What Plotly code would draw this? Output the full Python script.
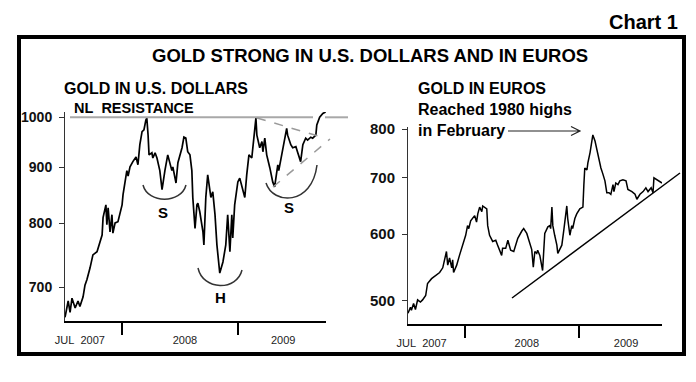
import math
import plotly.graph_objects as go

W, H = 696, 382

# ---------------- data ----------------
usd_dates = [
    "2007-07-04", "2007-07-14", "2007-07-20", "2007-07-26", "2007-08-05", "2007-08-14", "2007-08-20",
    "2007-08-30", "2007-09-05", "2007-09-11", "2007-09-21", "2007-09-30", "2007-10-13", "2007-10-22",
    "2007-10-29", "2007-11-01", "2007-11-10", "2007-11-13", "2007-11-17", "2007-11-23", "2007-11-29",
    "2007-12-02", "2007-12-09", "2007-12-18", "2007-12-24", "2007-12-31", "2008-01-03", "2008-01-09",
    "2008-01-15", "2008-01-19", "2008-01-25", "2008-02-03", "2008-02-13", "2008-02-19", "2008-02-25",
    "2008-03-03", "2008-03-09", "2008-03-15", "2008-03-18", "2008-03-22", "2008-03-25", "2008-04-03",
    "2008-04-06", "2008-04-13", "2008-04-19", "2008-04-28", "2008-05-05", "2008-05-14", "2008-05-23",
    "2008-06-05", "2008-06-08", "2008-06-18", "2008-06-24", "2008-07-07", "2008-07-13", "2008-07-19",
    "2008-07-25", "2008-08-01", "2008-08-07", "2008-08-10", "2008-08-17", "2008-08-23", "2008-08-26",
    "2008-09-01", "2008-09-11", "2008-09-14", "2008-09-20", "2008-09-26", "2008-10-06", "2008-10-12",
    "2008-10-19", "2008-10-25", "2008-11-03", "2008-11-13", "2008-11-22", "2008-11-28", "2008-12-05",
    "2008-12-11", "2008-12-14", "2008-12-20", "2008-12-30", "2009-01-05", "2009-01-15", "2009-01-21",
    "2009-01-27", "2009-02-03", "2009-02-12", "2009-02-18", "2009-02-25", "2009-02-28", "2009-03-09",
    "2009-03-16", "2009-03-19", "2009-03-25", "2009-03-31", "2009-04-10", "2009-04-19", "2009-04-25",
    "2009-05-02", "2009-05-05", "2009-05-08", "2009-05-17", "2009-05-24", "2009-06-02", "2009-06-05",
    "2009-06-15", "2009-06-21", "2009-07-01", "2009-07-07", "2009-07-16", "2009-07-23", "2009-08-01",
    "2009-08-07", "2009-08-17", "2009-08-23", "2009-09-02", "2009-09-05", "2009-09-14", "2009-09-24",
    "2009-10-03",
]
usd_values = [
    657, 680, 664, 684, 670, 680, 672,
    686, 703, 711, 729, 749, 754, 770,
    781, 810, 832, 798, 827, 786, 815,
    784, 801, 803, 815, 832, 850, 871,
    894, 884, 901, 911, 920, 905, 944,
    970, 974, 994, 998, 963, 924, 928,
    918, 928, 918, 894, 859, 894, 924,
    894, 901, 871, 909, 938, 959, 957,
    930, 924, 894, 845, 792, 832, 835,
    820, 786, 765, 845, 886, 845, 855,
    815, 765, 721, 738, 765, 815, 754,
    815, 776, 832, 873, 880, 855, 845,
    886, 924, 918, 950, 998, 963, 938,
    950, 930, 957, 924, 899, 873, 864,
    894, 905, 894, 924, 950, 977, 963,
    944, 938, 940, 928, 911, 944, 957,
    953, 959, 957, 963, 984, 1000, 1008,
    1011,
]

eur_dates = [
    "2007-07-01", "2007-07-09", "2007-07-12", "2007-07-19", "2007-07-25", "2007-08-01", "2007-08-10",
    "2007-08-17", "2007-08-27", "2007-09-02", "2007-09-15", "2007-10-01", "2007-10-11", "2007-10-21",
    "2007-10-27", "2007-11-02", "2007-11-06", "2007-11-12", "2007-11-19", "2007-11-22", "2007-11-25",
    "2007-12-05", "2007-12-14", "2007-12-24", "2008-01-03", "2008-01-09", "2008-01-13", "2008-01-19",
    "2008-01-25", "2008-02-01", "2008-02-07", "2008-02-11", "2008-02-17", "2008-02-24", "2008-02-27",
    "2008-03-11", "2008-03-14", "2008-03-20", "2008-03-30", "2008-04-09", "2008-04-15", "2008-04-28",
    "2008-05-01", "2008-05-11", "2008-05-18", "2008-05-27", "2008-06-06", "2008-06-19", "2008-07-02",
    "2008-07-08", "2008-07-18", "2008-07-28", "2008-08-03", "2008-08-08", "2008-08-13", "2008-08-19",
    "2008-08-22", "2008-08-29", "2008-09-07", "2008-09-14", "2008-09-21", "2008-09-24", "2008-09-30",
    "2008-10-03", "2008-10-07", "2008-10-10", "2008-10-16", "2008-10-23", "2008-10-26", "2008-11-08",
    "2008-11-15", "2008-11-24", "2008-11-27", "2008-12-04", "2008-12-10", "2008-12-13", "2008-12-20",
    "2008-12-26", "2009-01-05", "2009-01-15", "2009-01-18", "2009-01-21", "2009-01-28", "2009-01-31",
    "2009-02-07", "2009-02-13", "2009-02-16", "2009-02-23", "2009-03-01", "2009-03-08", "2009-03-14",
    "2009-03-20", "2009-03-27", "2009-04-02", "2009-04-09", "2009-04-15", "2009-04-22", "2009-04-25",
    "2009-05-01", "2009-05-08", "2009-05-14", "2009-05-24", "2009-06-03", "2009-06-09", "2009-06-22",
    "2009-07-02", "2009-07-08", "2009-07-18", "2009-07-28", "2009-08-06", "2009-08-13", "2009-08-23",
    "2009-08-29", "2009-09-01", "2009-09-11", "2009-09-14", "2009-09-27",
]
eur_values = [
    483, 491, 487, 496, 488, 501, 498,
    501, 507, 524, 531, 536, 540, 547,
    562, 572, 551, 562, 547, 559, 540,
    551, 566, 580, 598, 614, 609, 622,
    626, 631, 620, 634, 646, 638, 648,
    643, 614, 598, 588, 590, 582, 566,
    577, 577, 590, 574, 572, 593, 605,
    609, 601, 585, 575, 548, 572, 569,
    574, 566, 543, 601, 609, 612, 614,
    609, 646, 614, 598, 582, 569, 582,
    609, 648, 626, 598, 614, 609, 626,
    634, 643, 646, 686, 719, 715, 729,
    750, 771, 787, 774, 755, 735, 719,
    708, 694, 672, 672, 669, 687, 674,
    690, 687, 694, 696, 694, 678, 674,
    669, 660, 669, 674, 681, 674, 681,
    672, 700, 696, 694, 690,
]

usd_ticks = [700, 800, 900, 1000]
eur_ticks = [500, 600, 700, 800]
year_labels = ["JUL\u00a0 2007", "2008", "2009"]
year_starts = ["2008-01-01", "2009-01-01"]
usd_label_dates = ["2007-08-20", "2008-07-16", "2009-05-22"]
eur_label_dates = ["2007-08-14", "2008-07-18", "2009-06-03"]

# ---------------- layout helpers (pixel -> paper) ----------------
def px(x):
    return x / W

def py(y):
    return 1 - y / H

def pt(x, y):
    return f"{px(x):.5f},{py(y):.5f}"

FONT = "Arial, 'Liberation Sans', sans-serif"

fig = go.Figure()
fig.add_trace(go.Scatter(x=usd_dates, y=usd_values, mode="lines",
                         line=dict(color="black", width=1.7), xaxis="x", yaxis="y",
                         showlegend=False, hoverinfo="skip"))
fig.add_trace(go.Scatter(x=eur_dates, y=eur_values, mode="lines",
                         line=dict(color="black", width=1.5), xaxis="x2", yaxis="y2",
                         showlegend=False, hoverinfo="skip"))

xcommon = dict(type="date", showgrid=False, zeroline=False, showline=True,
               linecolor="black", linewidth=2, tickmode="array", ticktext=year_labels,
               ticks="", tickfont=dict(family=FONT, size=11, color="#222"),
               ticklabelstandoff=8,
               minor=dict(tickmode="array", tickvals=year_starts, ticks="outside",
                          ticklen=12, tickwidth=2, tickcolor="black"))
ycommon = dict(type="log", showgrid=False, zeroline=False, showline=True,
               linecolor="#333", linewidth=1, tickmode="array", ticks="outside",
               ticklen=5, tickwidth=1, tickcolor="#333",
               tickfont=dict(family=FONT, size=14, color="#111", weight="bold"),
               ticklabelstandoff=4)

fig.update_layout(
    width=W, height=H, margin=dict(l=0, r=0, t=0, b=0, pad=0, autoexpand=False),
    paper_bgcolor="white", plot_bgcolor="white", showlegend=False,
    xaxis=dict(xcommon, domain=[px(65), px(326)], range=["2007-07-04", "2009-10-04"],
               tickvals=usd_label_dates, anchor="y"),
    yaxis=dict(ycommon, domain=[py(321), py(112)], range=[math.log10(652), math.log10(1011)],
               tickvals=usd_ticks, ticktext=[str(v) for v in usd_ticks], anchor="x"),
    xaxis2=dict(xcommon, domain=[px(408), px(662)], range=["2007-07-01", "2009-09-27"],
                tickvals=eur_label_dates, anchor="y2"),
    yaxis2=dict(ycommon, domain=[py(324), py(127)], range=[math.log10(469), math.log10(804.4)],
                tickvals=eur_ticks, ticktext=[str(v) for v in eur_ticks], anchor="x2",
                tickfont=dict(family=FONT, size=15, color="#111", weight="bold")),
)

shapes = []
# outer frame
shapes.append(dict(type="rect", xref="paper", yref="paper", x0=px(19), x1=px(684),
                   y0=py(354), y1=py(37), line=dict(color="black", width=4)))
# NL resistance line
for a, b in [(70, 313), (325, 348)]:
    shapes.append(dict(type="line", xref="paper", yref="paper", x0=px(a), x1=px(b),
                       y0=py(117.3), y1=py(117.3), line=dict(color="#a8a8a8", width=2)))
# dashed triangle lines
shapes.append(dict(type="line", xref="paper", yref="paper", x0=px(257), y0=py(118),
                   x1=px(318), y1=py(136), line=dict(color="#9a9a9a", width=1.5, dash="dash")))
shapes.append(dict(type="line", xref="paper", yref="paper", x0=px(273), y0=py(187),
                   x1=px(330), y1=py(139), line=dict(color="#9a9a9a", width=1.5, dash="dash")))
# arcs (S, H, S)
arcs = [((143, 185), (148, 204), (181, 204), (186, 185)),
        ((198, 268), (203, 291), (237, 291), (242, 270)),
        ((266, 183), (273, 205), (312, 206), (317, 165))]
for p0, c1, c2, p3 in arcs:
    path = f"M {pt(*p0)} C {pt(*c1)} {pt(*c2)} {pt(*p3)}"
    shapes.append(dict(type="path", xref="paper", yref="paper", path=path,
                       line=dict(color="#333", width=1.5)))
# euro trend line
shapes.append(dict(type="line", xref="paper", yref="paper", x0=px(512), y0=py(298),
                   x1=px(680), y1=py(173), line=dict(color="black", width=1.5)))
# arrow
shapes.append(dict(type="path", xref="paper", yref="paper",
                   path=f"M {pt(508,131)} L {pt(580,131)} M {pt(571,126.5)} L {pt(580,131)} L {pt(571,135.5)}",
                   line=dict(color="#222", width=1.2)))
fig.update_layout(shapes=shapes)

def txt(s, x, y, size, anchor="left", bold=True, color="black"):
    fig.add_annotation(text=s, x=px(x), y=py(y), xref="paper", yref="paper",
                       xanchor=anchor, yanchor="middle", showarrow=False,
                       font=dict(family=FONT, size=size, color=color,
                                 weight="bold" if bold else "normal"))

txt("Chart 1", 680, 22, 20, anchor="right")
txt("GOLD STRONG IN U.S. DOLLARS AND IN EUROS", 370, 55, 18.5, anchor="center")
txt("GOLD IN U.S. DOLLARS", 62, 88, 16)
txt("NL\u00a0 RESISTANCE", 72, 108, 14.5)
txt("GOLD IN EUROS", 416, 88, 16)
txt("Reached 1980 highs", 416, 109, 16)
txt("in February", 416, 130, 16)
txt("S", 163, 212, 15, anchor="center")
txt("H", 220, 297, 15, anchor="center")
txt("S", 289, 207, 15, anchor="center")

fig.write_html("out.html", config={"displayModeBar": False, "staticPlot": True},
               post_script="document.body.style.margin='0px';document.body.style.overflow='hidden';")
